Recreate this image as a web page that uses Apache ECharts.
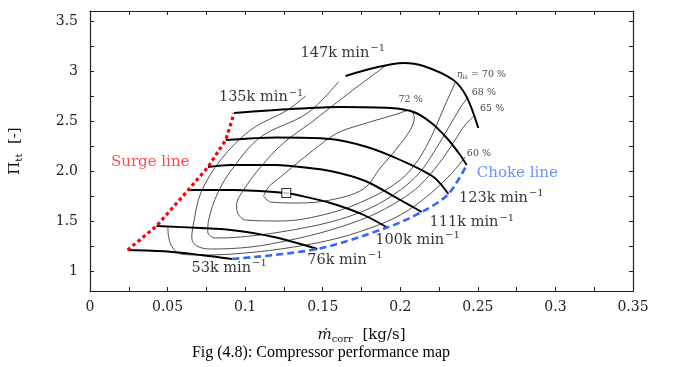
<!DOCTYPE html>
<html><head><meta charset="utf-8">
<script src="https://cdn.jsdelivr.net/npm/echarts@6/dist/echarts.min.js"></script>
<style>html,body{margin:0;padding:0;background:#fff}#c{width:683px;height:367px}</style>
</head><body><div id="c"></div>
<script>
// ---- axis ticks ----
const xTicks = [0,0.025,0.05,0.075,0.1,0.125,0.15,0.175,0.2,0.225,0.25,0.275,0.3,0.325,0.35];
const xLabelValues = [0,0.05,0.1,0.15,0.2,0.25,0.3,0.35];
const yTicks = [1,1.25,1.5,1.75,2,2.25,2.5,2.75,3,3.25,3.5];
const yLabelValues = [1,1.5,2,2.5,3,3.5];
const yTickLabels = ['1','1.5','2.0','2.5','3','3.5'];

// ---- speed lines (m_corr [kg/s], Pi_tt) ----
const speed53  = [[0.0243,1.21],[0.05,1.195],[0.0714,1.16],[0.0918,1.12]];
const speed76  = [[0.0429,1.45],[0.0714,1.43],[0.0907,1.41],[0.1185,1.34],[0.1465,1.22]];
const speed100 = [[0.0633,1.81],[0.093,1.81],[0.1265,1.78],[0.1336,1.76],[0.155,1.68],[0.1765,1.56],[0.1915,1.435]];
const speed111 = [[0.0761,2.04],[0.0907,2.06],[0.12,2.06],[0.1357,2.04],[0.155,2.0],[0.1775,1.9],[0.2,1.71],[0.2138,1.59]];
const speed123 = [[0.0875,2.31],[0.12,2.335],[0.155,2.32],[0.1786,2.24],[0.2,2.11],[0.2214,1.94],[0.231,1.77]];
const speed135 = [[0.0929,2.58],[0.13,2.62],[0.1614,2.64],[0.1937,2.63],[0.2085,2.59],[0.2193,2.49],[0.23,2.33],[0.2386,2.16],[0.2428,2.06]];
const speed147 = [[0.1647,2.95],[0.1828,3.03],[0.2021,3.08],[0.215,3.05],[0.2342,2.91],[0.2428,2.74],[0.2503,2.43]];

// ---- surge and choke lines ----
const surgeLine = [[0.0243,1.21],[0.0429,1.45],[0.0633,1.81],[0.0761,2.04],[0.0875,2.31],[0.0929,2.58]];
const chokeLine = [[0.0918,1.12],[0.1465,1.22],[0.1915,1.435],[0.2138,1.59],[0.231,1.77],[0.2428,2.06]];

// ---- isentropic efficiency contours ----
const eff60 = [[0.0502,1.44],[0.0508,1.33],[0.0534,1.23],[0.0585,1.17],[0.0714,1.16],[0.0919,1.17],[0.1228,1.22],[0.155,1.31],[0.1807,1.43],[0.2,1.56],[0.216,1.73],[0.2289,1.91],[0.2373,2.05],[0.2418,2.14]];
const eff65 = [[0.1389,2.75],[0.1273,2.61],[0.1035,2.41],[0.0842,2.11],[0.0714,1.78],[0.0669,1.49],[0.0656,1.33],[0.0688,1.25],[0.0778,1.22],[0.1035,1.24],[0.1292,1.31],[0.155,1.41],[0.1807,1.55],[0.2,1.71],[0.2128,1.86],[0.2257,2.09],[0.2353,2.31],[0.2418,2.46],[0.2482,2.56]];
const eff68 = [[0.1601,2.89],[0.1402,2.58],[0.11,2.34],[0.0926,2.04],[0.0823,1.78],[0.0765,1.51],[0.0759,1.39],[0.081,1.33],[0.0971,1.34],[0.1228,1.39],[0.155,1.49],[0.1807,1.63],[0.2,1.81],[0.2128,1.99],[0.2225,2.21],[0.2321,2.46],[0.2386,2.63],[0.2437,2.74]];
const eff70 = [[0.1903,3.05],[0.1678,2.79],[0.1421,2.48],[0.1247,2.28],[0.11,2.04],[0.099,1.81],[0.0945,1.66],[0.0952,1.58],[0.1003,1.51],[0.1228,1.5],[0.155,1.58],[0.1807,1.73],[0.2,1.91],[0.2115,2.11],[0.2205,2.36],[0.2289,2.66],[0.2353,2.88]];
const eff72 = [[0.1119,1.75],[0.1151,1.84],[0.1228,1.94],[0.144,2.21],[0.1595,2.38],[0.1762,2.47],[0.198,2.57],[0.2064,2.61],[0.209,2.53],[0.2064,2.41],[0.198,2.23],[0.1871,2.03],[0.1762,1.82],[0.155,1.71],[0.1337,1.68],[0.1164,1.69],[0.1119,1.75]];

// ---- design point ----
const designPoint = [[0.1265,1.78]];

// ---- annotations ----
const speedNames = ['53k','76k','100k','111k','123k','135k','147k'];
const speedLabelAt = [[0.0654,1.027],[0.14,1.11],[0.1839,1.31],[0.2189,1.483],[0.2379,1.727],[0.0831,2.733],[0.1357,3.177]];
const effNames = ['60 %','65 %','68 %','70 %','72 %'];
const effLabelAt = [[0.2429,2.177],[0.2514,2.62],[0.2461,2.787],[0.2364,2.96],[0.1989,2.71]];
const boundaryNames = ['Surge line','Choke line'];
const boundaryLabelAt = [[0.0135,2.087],[0.2493,1.977]];

const SERIF = '"DejaVu Serif", serif';
const chart = echarts.init(document.getElementById('c'), null, {renderer:'canvas'});

function line(data, color, width, type, smooth, z) {
  return {type:'line', data, smooth, symbol:'none', silent:true, z,
    lineStyle:{color, width, type, cap:'butt'}, animation:false};
}

const effLineColor = '#333';
const series = [
  line(eff60, effLineColor, 0.85, 'solid', 0.35, 2),
  line(eff65, effLineColor, 0.85, 'solid', 0.35, 2),
  line(eff68, effLineColor, 0.85, 'solid', 0.35, 2),
  line(eff70, effLineColor, 0.85, 'solid', 0.35, 2),
  line(eff72, effLineColor, 0.85, 'solid', 0.35, 2),
  line(speed53, '#000', 1.9, 'solid', 0.3, 3),
  line(speed76, '#000', 1.9, 'solid', 0.3, 3),
  line(speed100, '#000', 1.9, 'solid', 0.3, 3),
  line(speed111, '#000', 1.9, 'solid', 0.3, 3),
  line(speed123, '#000', 1.9, 'solid', 0.3, 3),
  line(speed135, '#000', 1.9, 'solid', 0.3, 3),
  line(speed147, '#000', 1.9, 'solid', 0.3, 3),
  line(surgeLine, '#ff0000', 3.2, [3.5,3], false, 4),
  line(chokeLine, '#3366ff', 2.6, [7,4], 0.3, 4),
  {type:'scatter', data: designPoint, symbol:'rect', symbolSize:9, z:6, silent:true, animation:false,
    itemStyle:{color:'#fff', borderColor:'#000', borderWidth:1.1}},
  {type:'scatter', data: speedLabelAt, symbolSize:0, z:7, silent:true, animation:false,
    label:{show:true, position:'right', distance:0,
      formatter: p => '{a|' + speedNames[p.dataIndex] + ' min}{s|−1}',
      rich:{a:{fontFamily:SERIF, fontSize:14.5, color:'#000'},
            s:{fontFamily:SERIF, fontSize:10, color:'#000', padding:[0,0,9,1]}}}},
  {type:'scatter', data: effLabelAt, symbolSize:0, z:7, silent:true, animation:false,
    label:{show:true, position:'right', distance:0,
      formatter: p => p.dataIndex === 3 ? '{e|η}{b|is}{t| = 70 %}' : '{t|' + effNames[p.dataIndex] + '}',
      rich:{t:{fontFamily:SERIF, fontSize:9.5, color:'#111'},
            e:{fontFamily:SERIF, fontSize:9.5, fontStyle:'italic', color:'#111'},
            b:{fontFamily:SERIF, fontSize:6.5, color:'#111', padding:[5,0,0,0]}}}},
  {type:'scatter', symbolSize:0, z:7, silent:true, animation:false,
    data: boundaryLabelAt.map((v,i)=>({value:v, label:{color: i===0 ? '#ff2222' : '#4477ff'}})),
    label:{show:true, position:'right', distance:0, fontFamily:SERIF, fontSize:15,
      formatter: p => boundaryNames[p.dataIndex]}}
];

const axisCommon = {
  axisLine:{show:true, onZero:false, lineStyle:{color:'#222', width:1.2}},
  splitLine:{show:false}
};

chart.setOption({
  backgroundColor:'#fff',
  animation:false,
  grid:{left:89, right:50, top:11, bottom:76, containLabel:false},
  xAxis:[
    Object.assign({type:'value', min:0, max:0.35, interval:0.05, position:'bottom',
      name:'{i|ṁ}{sub|corr}  [kg/s]', nameLocation:'middle', nameGap:36,
      nameTextStyle:{fontFamily:SERIF, fontSize:15, color:'#111',
        rich:{i:{fontFamily:SERIF, fontSize:15, fontStyle:'italic', color:'#111'},
              sub:{fontFamily:SERIF, fontSize:10, color:'#111', padding:[7,0,0,0]}}},
      axisTick:{show:true, inside:true, length:4, customValues:xTicks, lineStyle:{color:'#222'}},
      axisLabel:{show:true, customValues:xLabelValues, margin:9, fontFamily:SERIF, fontSize:14, color:'#222'}}, axisCommon),
    Object.assign({type:'value', min:0, max:0.35, interval:0.05, position:'top',
      axisTick:{show:true, inside:true, length:4, customValues:xTicks, lineStyle:{color:'#222'}},
      axisLabel:{show:false}}, axisCommon)
  ],
  yAxis:[
    Object.assign({type:'value', min:0.8, max:3.6, position:'left',
      name:'{p|Π}{sub|tt}  [-]', nameLocation:'middle', nameGap:66,
      nameTextStyle:{fontFamily:SERIF, fontSize:15, color:'#111',
        rich:{p:{fontFamily:SERIF, fontSize:15, color:'#111'},
              sub:{fontFamily:SERIF, fontSize:10, color:'#111', padding:[7,0,0,0]}}},
      axisTick:{show:true, inside:true, length:4, customValues:yTicks, lineStyle:{color:'#222'}},
      axisLabel:{show:true, customValues:yLabelValues, margin:12, fontFamily:SERIF, fontSize:14, color:'#222',
        formatter: v => { const i = yLabelValues.findIndex(t => Math.abs(t - v) < 1e-9); return i >= 0 ? yTickLabels[i] : ''; }}}, axisCommon),
    Object.assign({type:'value', min:0.8, max:3.6, position:'right',
      axisTick:{show:true, inside:true, length:4, customValues:yTicks, lineStyle:{color:'#222'}},
      axisLabel:{show:false}}, axisCommon)
  ],
  graphic:[{type:'text', x:321, y:353, silent:true,
    style:{text:'Fig (4.8): Compressor performance map', font:'16px "Liberation Serif", serif',
      fill:'#000', align:'center', verticalAlign:'middle'}}],
  series
});
</script></body></html>
